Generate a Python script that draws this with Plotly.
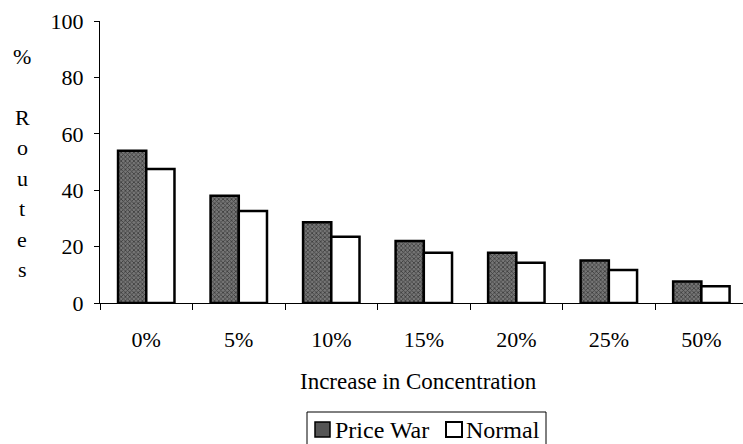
import plotly.graph_objects as go

# Share of routes (%) by increase in concentration
categories = ["0%", "5%", "10%", "15%", "20%", "25%", "50%"]
price_war = [54.0, 38.0, 28.6, 22.0, 17.8, 15.1, 7.6]
normal = [47.5, 32.6, 23.5, 17.8, 14.3, 11.7, 5.9]
y_ticks = [0, 20, 40, 60, 80, 100]
series_names = ["Price War", "Normal"]

W, H = 743, 444
ML, MT, MB, MR = 100, 21, 141, 0
PW, PH = W - ML - MR, H - MT - MB

FONT = "Liberation Serif"
HATCH_BG = "#767676"


def px_to_paper(xp, yp):
    return (xp - ML) / PW, (H - MB - yp) / PH


fig = go.Figure()
fig.add_trace(go.Bar(
    x=categories, y=price_war, name=series_names[0],
    marker=dict(
        color="#4a4a4a",
        line=dict(color="black", width=2.5),
        pattern=dict(shape="x", fgcolor="#000000", bgcolor=HATCH_BG,
                     size=3, solidity=0.45),
    ),
))
fig.add_trace(go.Bar(
    x=categories, y=normal, name=series_names[1],
    marker=dict(color="white", line=dict(color="black", width=2.5)),
))

# Vertical stacked y-axis title
letters = [("%", 56), ("R", 117), ("o", 147.5), ("u", 178),
           ("t", 208.5), ("e", 239), ("s", 269.5)]
for ch, yp in letters:
    ax, ay = px_to_paper(22, yp)
    fig.add_annotation(text=ch, x=ax, y=ay, xref="paper", yref="paper",
                       showarrow=False, xanchor="center", yanchor="middle",
                       font=dict(family=FONT, size=22, color="black"))

tx, ty = px_to_paper(418, 381)
fig.add_annotation(text="Increase in Concentration", x=tx, y=ty,
                   xref="paper", yref="paper", showarrow=False,
                   xanchor="center", yanchor="middle",
                   font=dict(family=FONT, size=23, color="black"))


# Boxed legend below the axis title
def paper_rect(x0, y0, x1, y1, **kw):
    px0, py0 = px_to_paper(x0, y0)
    px1, py1 = px_to_paper(x1, y1)
    fig.add_shape(type="rect", xref="paper", yref="paper",
                  x0=px0, y0=py0, x1=px1, y1=py1, **kw)


paper_rect(307, 412, 546, 447, line=dict(color="black", width=1),
           fillcolor="rgba(0,0,0,0)")
paper_rect(315, 422, 330, 437, line=dict(color="black", width=1.5),
           fillcolor="#555555")
paper_rect(446, 422, 462, 437, line=dict(color="black", width=2),
           fillcolor="white")
for name, xp in zip(series_names, [333, 464]):
    ax, ay = px_to_paper(xp, 430)
    fig.add_annotation(text=name, x=ax, y=ay, xref="paper", yref="paper",
                       showarrow=False, xanchor="left", yanchor="middle",
                       font=dict(family=FONT, size=24, color="black"))

fig.update_layout(
    width=W, height=H,
    margin=dict(l=ML, r=MR, t=MT, b=MB),
    paper_bgcolor="white", plot_bgcolor="white",
    barmode="group", bargap=0.39, bargroupgap=0,
    font=dict(family=FONT, size=22, color="black"),
    showlegend=False,
    xaxis=dict(range=[-0.5, 6.45], showline=True, linecolor="black",
               linewidth=1, ticks="outside", ticklen=6, tickcolor="black",
               tickson="boundaries", showgrid=False, zeroline=False,
               ticklabelstandoff=17,
               tickfont=dict(family=FONT, size=22, color="black")),
    yaxis=dict(range=[0, 100], tickvals=y_ticks, showline=True,
               linecolor="black", linewidth=1, ticks="outside", ticklen=5,
               tickcolor="black", showgrid=False, zeroline=False,
               ticklabelstandoff=6,
               tickfont=dict(family=FONT, size=22, color="black")),
)

fig.write_html("out.html")
